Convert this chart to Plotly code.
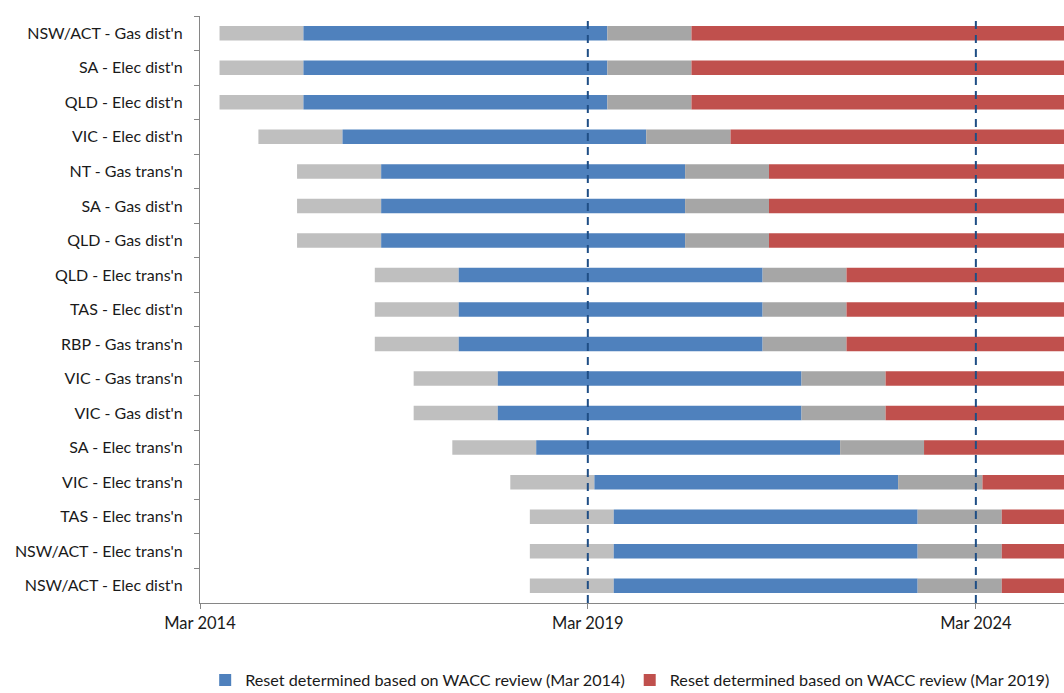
import pandas as pd
import plotly.graph_objects as go

# Networks, top to bottom
networks = [
    "NSW/ACT - Gas dist'n", "SA - Elec dist'n", "QLD - Elec dist'n", "VIC - Elec dist'n",
    "NT - Gas trans'n", "SA - Gas dist'n", "QLD - Gas dist'n", "QLD - Elec trans'n",
    "TAS - Elec dist'n", "RBP - Gas trans'n", "VIC - Gas trans'n", "VIC - Gas dist'n",
    "SA - Elec trans'n", "VIC - Elec trans'n", "TAS - Elec trans'n",
    "NSW/ACT - Elec trans'n", "NSW/ACT - Elec dist'n",
]

# Month in which the reset process for each network begins
process_start = [
    "2014-06", "2014-06", "2014-06", "2014-12",
    "2015-06", "2015-06", "2015-06", "2016-06",
    "2016-06", "2016-06", "2016-12", "2016-12",
    "2017-06", "2018-03", "2018-06",
    "2018-06", "2018-06",
]

# Segment lengths in months
process_months = 13        # determination process (light grey)
period_2014_months = 47    # reset based on Mar 2014 WACC review (blue)
next_process_months = 13   # next determination process (dark grey)
period_2019_months = 60    # reset based on Mar 2019 WACC review (red)

segments = [
    ("Process", process_months, "#BFBFBF", False),
    ("Reset determined based on WACC review (Mar 2014)", period_2014_months, "#4F81BD", True),
    ("Next process", next_process_months, "#A6A6A6", False),
    ("Reset determined based on WACC review (Mar 2019)", period_2019_months, "#C0504D", True),
]

tick_dates = ["2014-03-01", "2019-03-01", "2024-03-01"]
tick_text = ["Mar 2014", "Mar 2019", "Mar 2024"]
review_dates = ["2019-03-01", "2024-03-01"]

fig = go.Figure()
starts = pd.to_datetime(process_start)
for name, months, color, show in segments:
    ends = starts + pd.DateOffset(months=months)
    dur_ms = [(e - s).total_seconds() * 1000 for s, e in zip(starts, ends)]
    fig.add_trace(go.Bar(
        y=networks,
        x=dur_ms,
        base=[s.strftime("%Y-%m-%d") for s in starts],
        orientation="h",
        name=name,
        marker=dict(color=color, line=dict(width=0)),
        showlegend=show,
        hoverinfo="skip",
    ))
    starts = ends

for d in review_dates:
    fig.add_shape(type="line", xref="x", yref="paper", x0=d, x1=d, y0=0, y1=1,
                  line=dict(color="#1F4E85", width=2, dash="8px,6px"), layer="above")

font_family = "Lato, 'Open Sans', sans-serif"
text_color = "#1A1A1A"
fig.update_layout(
    width=1064, height=693,
    margin=dict(l=200, r=0, t=16, b=90, autoexpand=False),
    paper_bgcolor="white", plot_bgcolor="white",
    barmode="overlay", bargap=0.58,
    font=dict(family=font_family, size=16, color=text_color),
    legend=dict(orientation="h", x=0.006, xanchor="left",
                yref="container", y=0.018, yanchor="middle",
                font=dict(size=16.2, color=text_color), itemwidth=30, tracegroupgap=0),
    xaxis=dict(
        type="date", range=["2014-03-01", "2025-04-20"],
        tickvals=tick_dates, ticktext=tick_text,
        showgrid=False, zeroline=False,
        showline=True, linecolor="#868686", linewidth=1,
        ticks="outside", ticklen=5, tickcolor="#868686",
        tickfont=dict(size=16.5, color=text_color),
    ),
    yaxis=dict(
        type="category", categoryorder="array", categoryarray=networks,
        autorange="reversed",
        showgrid=False, zeroline=False,
        showline=True, linecolor="#868686", linewidth=1,
        ticks="outside", ticklen=5, tickcolor="#868686", tickson="boundaries",
        ticklabelstandoff=13,
        tickfont=dict(size=16, color=text_color),
    ),
)

fig.write_html("out.html")
